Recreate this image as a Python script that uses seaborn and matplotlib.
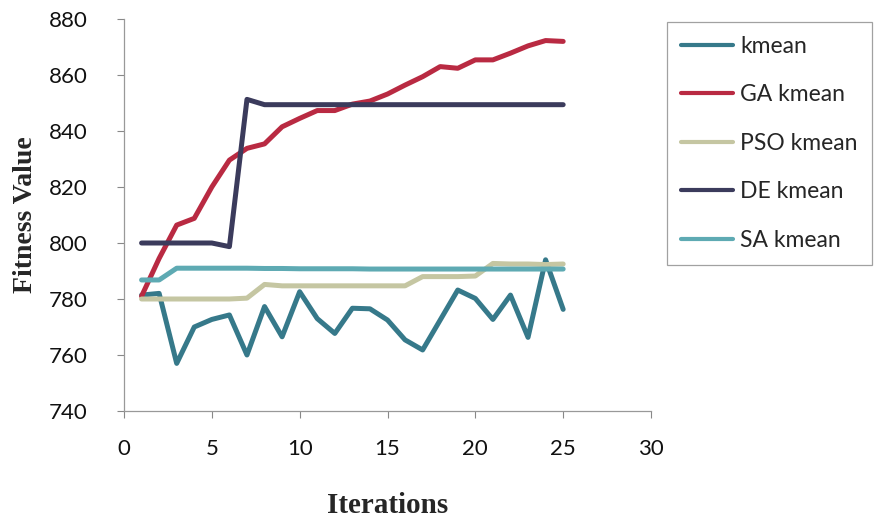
import numpy as np
import pandas as pd
import matplotlib
matplotlib.use("Agg")
import matplotlib.pyplot as plt
import seaborn as sns

iterations = list(range(1, 26))
kmean = [781.4, 782.0, 757.0, 770.0, 772.7, 774.3, 760.0, 777.3, 766.5, 782.6,
         773.0, 767.7, 776.7, 776.5, 772.5, 765.4, 761.8, 772.5, 783.2, 780.2,
         772.7, 781.4, 766.3, 794.0, 776.3]
ga_kmean = [781.0, 794.5, 806.4, 808.8, 820.0, 829.6, 833.8, 835.4, 841.5, 844.5,
            847.3, 847.3, 849.6, 850.7, 853.2, 856.4, 859.4, 863.0, 862.4, 865.4,
            865.4, 867.8, 870.4, 872.3, 872.0]
pso_kmean = [780.0, 780.0, 780.0, 780.0, 780.0, 780.0, 780.3, 785.2, 784.7, 784.7,
             784.7, 784.7, 784.7, 784.7, 784.7, 784.7, 788.0, 788.0, 788.0, 788.2,
             792.7, 792.5, 792.5, 792.3, 792.5]
de_kmean = [800.0, 800.0, 800.0, 800.0, 800.0, 798.7, 851.3, 849.4, 849.4, 849.4,
            849.4, 849.4, 849.4, 849.4, 849.4, 849.4, 849.4, 849.4, 849.4, 849.4,
            849.4, 849.4, 849.4, 849.4, 849.4]
sa_kmean = [786.8, 786.8, 791.0, 791.0, 791.0, 791.0, 791.0, 790.9, 790.9, 790.8,
            790.8, 790.8, 790.8, 790.7, 790.7, 790.7, 790.7, 790.7, 790.7, 790.7,
            790.7, 790.7, 790.7, 790.7, 790.7]
series_names = ["kmean", "GA kmean", "PSO kmean", "DE kmean", "SA kmean"]
x_ticks = [0, 5, 10, 15, 20, 25, 30]
y_ticks = [740, 760, 780, 800, 820, 840, 860, 880]

colors = ["#36798a", "#b92a42", "#c5c6a2", "#3b3b5c", "#5eaab3"]

frames = []
for name, vals in zip(series_names, [kmean, ga_kmean, pso_kmean, de_kmean, sa_kmean]):
    frames.append(pd.DataFrame({"Iteration": iterations, "Fitness": vals, "Series": name}))
df = pd.concat(frames, ignore_index=True)

sns.set_style("white")
plt.rcParams["font.family"] = ["Lato", "DejaVu Sans"]

fig = plt.figure(figsize=(8.88, 5.22), dpi=100)
ax = fig.add_axes([124 / 888, 1 - 411 / 522, (651 - 124) / 888, (411 - 19) / 522])

sns.lineplot(data=df, x="Iteration", y="Fitness", hue="Series", hue_order=series_names,
             palette=colors, linewidth=3.6, ax=ax, legend=True)

ax.set_xlim(0, 30)
ax.set_ylim(740, 880)
ax.set_xticks(x_ticks)
ax.set_yticks(y_ticks)
ax.tick_params(axis="both", labelsize=16, colors="#888888", labelcolor="#111111",
               length=5, width=0.8, direction="out", bottom=True, left=True)
ax.tick_params(axis="x", pad=15)
ax.tick_params(axis="y", pad=21)
for s in ["top", "right"]:
    ax.spines[s].set_visible(False)
for s in ["left", "bottom"]:
    ax.spines[s].set_color("#999999")
    ax.spines[s].set_linewidth(0.9)

ax.set_xlabel("Iterations", fontsize=21, fontweight="bold", family="Liberation Serif",
              labelpad=24)
ax.set_ylabel("Fitness Value", fontsize=20, fontweight="bold", family="Liberation Serif",
              labelpad=8)

handles, labels = ax.get_legend_handles_labels()
ax.get_legend().remove()
leg = fig.legend(handles, labels, loc="upper left", bbox_to_anchor=(667 / 888, 1 - 22 / 522),
                 fontsize=16.5, frameon=True, fancybox=False, labelspacing=1.2,
                 handlelength=2.3, handletextpad=0.3, borderpad=0.6, borderaxespad=0)
leg.get_frame().set_edgecolor("#8a8a8a")
leg.get_frame().set_linewidth(0.9)
for line in leg.get_lines():
    line.set_linewidth(3.0)

fig.savefig("out.png", dpi=100)
